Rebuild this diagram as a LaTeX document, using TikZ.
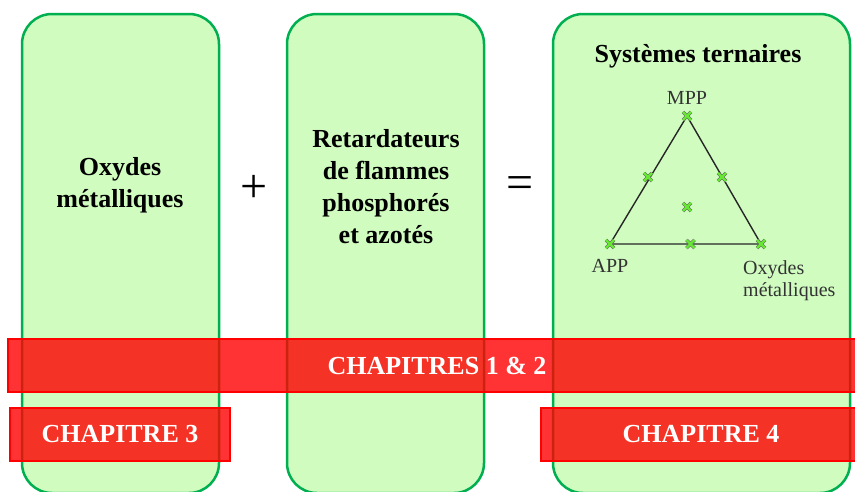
\documentclass[tikz,border=0pt]{standalone}
\usepackage{fontspec}
\setmainfont{Liberation Serif}
\usetikzlibrary{positioning,shapes.misc}
\definecolor{boxfill}{RGB}{208,252,192}
\definecolor{boxline}{RGB}{0,176,80}
\definecolor{markgreen}{RGB}{102,232,51}

\begin{document}
\begin{tikzpicture}[x=1pt,y=-1pt,
    col box/.style={rounded corners=30pt,draw=boxline,fill=boxfill,line width=2.5pt,
                    minimum width=197pt,minimum height=479pt},
    big text/.style={font=\fontsize{26}{32}\selectfont\bfseries,align=center},
    chap bar/.style={draw=red,line width=1.6pt,fill=red,fill opacity=0.8,text opacity=1,
                     text=white,minimum height=53pt,font=\fontsize{26}{30}\selectfont\bfseries},
    cross mark/.style={cross out,draw=black!60,double=markgreen,double distance=2.2pt,
                       line width=0.6pt,minimum size=7.5pt,inner sep=0pt},
    tri label/.style={font=\fontsize{20}{22}\selectfont,text=black!80,inner sep=0pt,align=left}]

      \clip (0,0) rectangle (855,491);

      % the three columns
      \node[col box] (ox) at (120.5,253.5) {};
      \node[col box] (rf) at (385.5,253.5) {};
      \node[col box, minimum width=297pt] (st) at (701.5,253.5) {};

      \node[big text] (oxt) at (120,185) {Oxydes\\métalliques};
      \node[big text] (rft) at (386,187) {Retardateurs\\de flammes\\phosphorés\\et azotés};
      \node[big text, anchor=base] (stt) at (698,62) {Systèmes ternaires};
      \node[font=\fontsize{48}{48}\selectfont] (plus) at (254,189) {+};
      \node[font=\fontsize{48}{48}\selectfont] (eq) at (520,188) {=};

      % ternary diagram
      \coordinate (mpp) at (687,116);
      \coordinate (app) at (610,244);
      \coordinate (om) at (761,244);
      \coordinate (m1) at (648,177);
      \coordinate (m2) at (722,177);
      \coordinate (m3) at (690.5,244);
      \coordinate (cen) at (687,207);
      \draw[black!85,line width=1.4pt] (mpp) -- (app) -- (om) -- cycle;
      \foreach \p in {mpp,app,om,m1,m2,m3,cen}
        \node[cross mark] (x\p) at (\p) {};

      \node[tri label] (lmpp) [above=11pt of mpp] {MPP};
      \node[tri label] (lapp) [below=15pt of app] {APP};
      \node[tri label] (lom) [below right=16pt and -18pt of om] {Oxydes\\métalliques};

      % chapter bars
      \node[chap bar, minimum width=858pt] (c12) at (437,365.5) {CHAPITRES 1 \& 2};
      \node[chap bar, minimum width=220pt] (c3) at (120,434.5) {CHAPITRE 3};
      \node[chap bar, minimum width=320pt] (c4) at (701,434.5) {CHAPITRE 4};
    \end{tikzpicture}
\end{document}
